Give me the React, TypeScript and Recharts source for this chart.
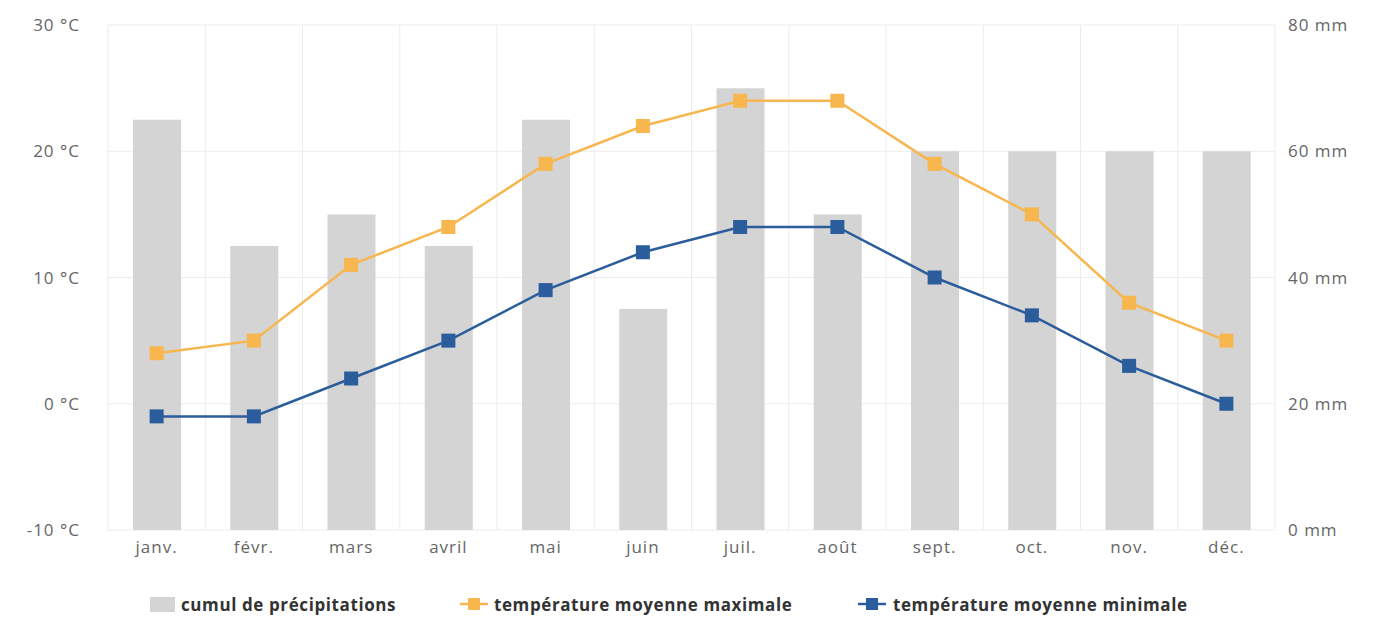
import React from 'react';
import { ComposedChart, Bar, Line, XAxis, YAxis, CartesianGrid, Legend } from 'recharts';

const months = ['janv.', 'févr.', 'mars', 'avril', 'mai', 'juin', 'juil.', 'août', 'sept.', 'oct.', 'nov.', 'déc.'];
const precipitation = [65, 45, 50, 45, 65, 35, 70, 50, 60, 60, 60, 60];
const tempMax = [4, 5, 11, 14, 19, 22, 24, 24, 19, 15, 8, 5];
const tempMin = [-1, -1, 2, 5, 9, 12, 14, 14, 10, 7, 3, 0];
const tempTicks = [-10, 0, 10, 20, 30];
const rainTicks = [0, 20, 40, 60, 80];

const data = months.map((m, i) => ({
  month: m,
  precip: precipitation[i],
  tmax: tempMax[i],
  tmin: tempMin[i],
}));

const BAR = '#d4d4d4';
const ORANGE = '#f7b64e';
const BLUE = '#2b5c9c';
const FONT = "'Open Sans', sans-serif";

const squareDot = (color: string) => (props: any) => {
  const { cx, cy, index } = props;
  if (cx == null || cy == null) return <g key={index} />;
  return <rect key={index} x={cx - 7} y={cy - 7} width={14} height={14} fill={color} />;
};

const LineIcon = ({ color }: { color: string }) => (
  <svg width={28} height={14} style={{ display: 'block' }}>
    <line x1={0} y1={7} x2={28} y2={7} stroke={color} strokeWidth={2.5} />
    <rect x={8} y={1} width={12} height={12} fill={color} />
  </svg>
);

const renderLegend = () => (
  <div
    style={{
      display: 'flex',
      alignItems: 'center',
      height: 20,
      paddingLeft: 150,
      fontFamily: FONT,
      fontWeight: 700,
      fontSize: 17,
      letterSpacing: 0.6,
      color: '#333',
      whiteSpace: 'nowrap',
    }}
  >
    <div style={{ display: 'flex', alignItems: 'center', width: 310 }}>
      <span style={{ display: 'block', width: 25, height: 15, background: BAR }} />
      <span style={{ marginLeft: 6 }}>cumul de précipitations</span>
    </div>
    <div style={{ display: 'flex', alignItems: 'center', width: 398 }}>
      <LineIcon color={ORANGE} />
      <span style={{ marginLeft: 6 }}>température moyenne maximale</span>
    </div>
    <div style={{ display: 'flex', alignItems: 'center' }}>
      <LineIcon color={BLUE} />
      <span style={{ marginLeft: 7 }}>température moyenne minimale</span>
    </div>
  </div>
);

const tickStyle = { fill: '#666', fontSize: 17, fontFamily: FONT, letterSpacing: 1 };

export default function App() {
  return (
    <div style={{ position: 'absolute', left: 0, top: 0, width: 1383, height: 639, background: '#fff' }}>
      <ComposedChart
        width={1383}
        height={639}
        data={data}
        margin={{ top: 25, right: 0, bottom: 25, left: 0 }}
        barCategoryGap="25%"
      >
        <CartesianGrid
          stroke="#ececec"
          strokeWidth={1}
          yAxisId="temp"
          verticalCoordinatesGenerator={({ offset }: any) =>
            months.map((_, i) => offset.left + (i * offset.width) / months.length).concat([offset.left + offset.width])
          }
        />
        <XAxis
          dataKey="month"
          axisLine={false}
          tickLine={false}
          tickSize={6}
          tickMargin={5}
          height={64}
          tick={tickStyle}
          interval={0}
        />
        <YAxis
          yAxisId="temp"
          orientation="left"
          domain={[-10, 30]}
          ticks={tempTicks}
          width={108}
          axisLine={false}
          tickLine={false}
          tickSize={6}
          tickMargin={22}
          tick={tickStyle}
          tickFormatter={(v: number) => `${v} °C`}
        />
        <YAxis
          yAxisId="rain"
          orientation="right"
          domain={[0, 80]}
          ticks={rainTicks}
          width={108}
          axisLine={false}
          tickLine={false}
          tickSize={6}
          tickMargin={7}
          tick={tickStyle}
          tickFormatter={(v: number) => `${v} mm`}
        />
        <Legend verticalAlign="bottom" content={renderLegend} />
        <Bar yAxisId="rain" dataKey="precip" name="cumul de précipitations" fill={BAR} barSize={48} isAnimationActive={false} />
        <Line
          yAxisId="temp"
          dataKey="tmax"
          name="température moyenne maximale"
          stroke={ORANGE}
          strokeWidth={2.5}
          dot={squareDot(ORANGE)}
          activeDot={false}
          isAnimationActive={false}
        />
        <Line
          yAxisId="temp"
          dataKey="tmin"
          name="température moyenne minimale"
          stroke={BLUE}
          strokeWidth={2.5}
          dot={squareDot(BLUE)}
          activeDot={false}
          isAnimationActive={false}
        />
      </ComposedChart>
    </div>
  );
}
